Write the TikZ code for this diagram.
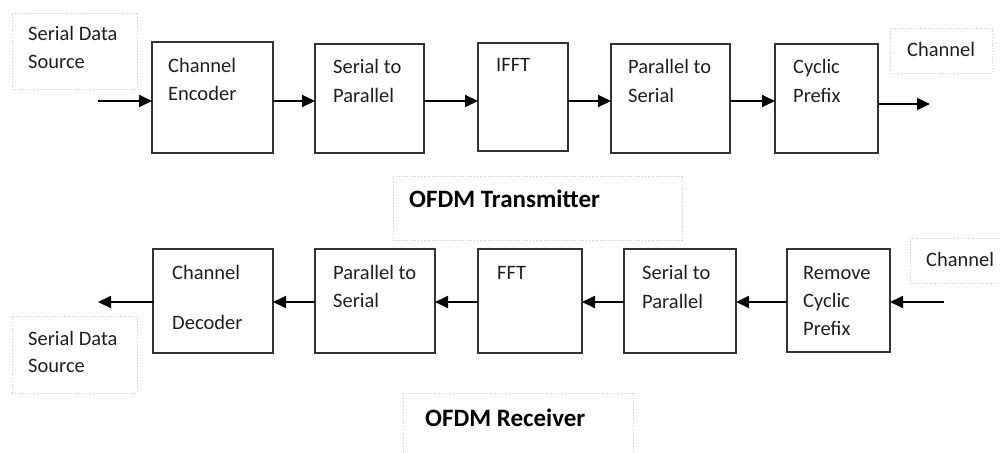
\documentclass[tikz,border=0pt]{standalone}
\usepackage{fontspec}
\setmainfont{Carlito}
\usetikzlibrary{arrows.meta}
\begin{document}
\begin{tikzpicture}[x=1pt,y=-1pt,
  blk/.style={draw=black!80, line width=1.2pt, inner sep=0pt, outer sep=0pt},
  lbl/.style={draw=black!20, dotted, line width=0.8pt, inner sep=0pt, outer sep=0pt},
  txt/.style={anchor=west, inner sep=0pt, text height=15.5pt, text depth=0pt, font=\fontsize{20.5}{24}\selectfont, text=black!88},
  btxt/.style={txt, text height=17pt, font=\fontsize{25}{28}\selectfont\bfseries, text=black},
  arr/.style={draw=black, line width=1.8pt, -{Triangle[length=13pt,width=12pt]}}
]
\useasboundingbox (0,0) rectangle (1000,452);
% label boxes
\node[lbl, minimum width=125pt, minimum height=76pt] (lsrc) at (74.5,51) {};
\node[lbl, minimum width=102pt, minimum height=45pt] (lch) at (941,50.5) {};
\node[lbl, minimum width=289pt, minimum height=64pt] (ltx) at (537.5,208) {};
\node[lbl, minimum width=95pt, minimum height=45pt] (lch2) at (957.5,260.5) {};
\node[lbl, minimum width=125pt, minimum height=77pt] (lsrc2) at (74.5,354.5) {};
\node[lbl, minimum width=230pt, minimum height=67pt] (lrx) at (518,426.5) {};
% top blocks
\node[blk, minimum width=121pt, minimum height=111pt] (enc) at (212.5,97.5) {};
\node[blk, minimum width=109pt, minimum height=109pt] (s2p) at (369.5,98.5) {};
\node[blk, minimum width=90pt, minimum height=108pt] (ifft) at (523,97) {};
\node[blk, minimum width=119pt, minimum height=109pt] (p2s) at (670.5,98.5) {};
\node[blk, minimum width=103pt, minimum height=109pt] (cp) at (826.5,98.5) {};
% bottom blocks
\node[blk, minimum width=120pt, minimum height=104pt] (dec) at (213,301) {};
\node[blk, minimum width=120pt, minimum height=104pt] (p2sb) at (375,301) {};
\node[blk, minimum width=104pt, minimum height=104pt] (fft) at (530,301) {};
\node[blk, minimum width=112pt, minimum height=104pt] (s2pb) at (680,301) {};
\node[blk, minimum width=103pt, minimum height=103pt] (rcp) at (838.5,300.5) {};
% texts top
\node[txt] (t1a) at (28,33) {Serial Data};
\node[txt] (t1b) at (28,61) {Source};
\node[txt] (t2a) at (168,65) {Channel};
\node[txt] (t2b) at (168,93) {Encoder};
\node[txt] (t3a) at (333,66) {Serial to};
\node[txt] (t3b) at (333,95) {Parallel};
\node[txt] (t4a) at (496,64) {IFFT};
\node[txt] (t5a) at (628,66) {Parallel to};
\node[txt] (t5b) at (628,95) {Serial};
\node[txt] (t6a) at (793,66) {Cyclic};
\node[txt] (t6b) at (793,95) {Prefix};
\node[txt] (t7a) at (907,49) {Channel};
\node[btxt] (t8a) at (409,199) {OFDM Transmitter};
% texts bottom
\node[txt] (b1a) at (172,272) {Channel};
\node[txt] (b1b) at (172,322) {Decoder};
\node[txt] (b2a) at (333,272) {Parallel to};
\node[txt] (b2b) at (333,300) {Serial};
\node[txt] (b3a) at (497,272) {FFT};
\node[txt] (b4a) at (642,272) {Serial to};
\node[txt] (b4b) at (642,301) {Parallel};
\node[txt] (b5a) at (803,272) {Remove};
\node[txt] (b5b) at (803,300) {Cyclic};
\node[txt] (b5c) at (803,328) {Prefix};
\node[txt] (b6a) at (926,259) {Channel};
\node[txt] (b7a) at (28,338) {Serial Data};
\node[txt] (b7b) at (28,365) {Source};
\node[btxt] (b8a) at (425,418) {OFDM Receiver};
% connectors top
\coordinate (ya) at (0,101);
\coordinate (yb) at (0,302);
\coordinate (tin) at (98,101);
\coordinate (tout) at (930,104);
\draw[arr] (tin) -- (enc.west|-ya);
\draw[arr] (enc.east|-ya) -- (s2p.west|-ya);
\draw[arr] (s2p.east|-ya) -- (ifft.west|-ya);
\draw[arr] (ifft.east|-ya) -- (p2s.west|-ya);
\draw[arr] (p2s.east|-ya) -- (cp.west|-ya);
\draw[arr] (cp.east|-tout) -- (tout);
% connectors bottom
\coordinate (bin) at (944,302);
\coordinate (bout) at (98,302);
\draw[arr] (bin) -- (rcp.east|-yb);
\draw[arr] (rcp.west|-yb) -- (s2pb.east|-yb);
\draw[arr] (s2pb.west|-yb) -- (fft.east|-yb);
\draw[arr] (fft.west|-yb) -- (p2sb.east|-yb);
\draw[arr] (p2sb.west|-yb) -- (dec.east|-yb);
\draw[arr] (dec.west|-yb) -- (bout);
\end{tikzpicture}
\end{document}
